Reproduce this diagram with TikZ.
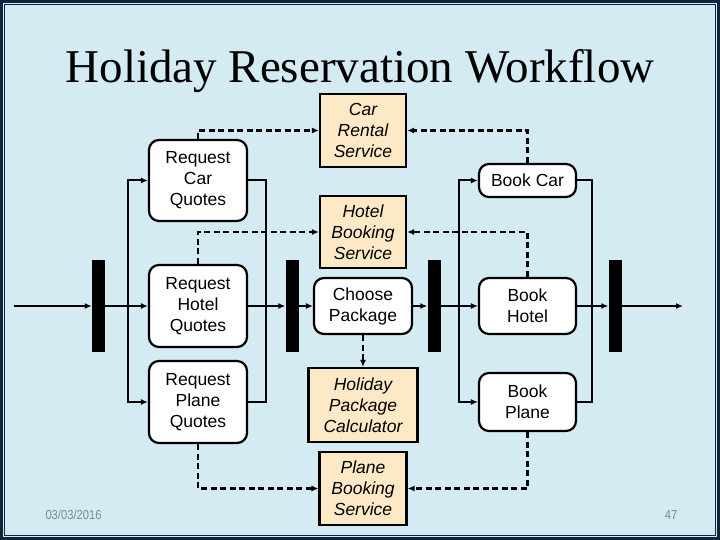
\documentclass[tikz,border=0pt]{standalone}
\usepackage{fontspec}
\setmainfont{Liberation Serif}
\newfontfamily\boxfont{Liberation Sans}
\newfontfamily\footfont[FakeStretch=0.86]{Liberation Sans}
\usetikzlibrary{positioning,arrows.meta}
\definecolor{slidebg}{RGB}{212,235,244}
\definecolor{slideframe}{RGB}{16,36,60}
\definecolor{servicefill}{RGB}{253,233,198}
\definecolor{footgray}{RGB}{125,137,148}
\tikzset{>={Latex[length=7pt,width=6pt]}}
\tikzset{
  activity/.style={draw, line width=2.2pt, rounded corners=10pt, fill=white, minimum width=98pt, inner sep=0pt, align=center, font=\boxfont\fontsize{17.5}{21}\selectfont},
  service/.style={draw, line width=2.2pt, fill=servicefill, inner sep=0pt, align=center, font=\boxfont\itshape\fontsize{17.5}{21}\selectfont},
  syncbar/.style={fill=black, minimum width=13pt, minimum height=92pt, inner sep=0pt},
  flow/.style={line width=2pt, ->},
  flowline/.style={line width=2pt},
  uses/.style={line width=2.4pt, dash pattern=on 6pt off 3.5pt, ->}
}

\begin{document}
\begin{tikzpicture}[x=1pt, y=1pt]
      \useasboundingbox (0,0) rectangle (720,-540);
      \fill[slideframe] (0,0) rectangle (720,-540);
      \fill[slidebg] (3,-3) rectangle (717,-537);
      \draw[slideframe, line width=1pt] (4.5,-4.5) rectangle (715.5,-535.5);
      \node[anchor=base, font=\fontsize{47}{50}\selectfont] (title) at (360,-83) {Holiday Reservation Workflow};
      \node[anchor=base west, text=footgray, font=\footfont\fontsize{13}{15}\selectfont] (date) at (42,-519) {03/03/2016};
      \node[anchor=base, text=footgray, font=\footfont\fontsize{13}{15}\selectfont] (page) at (671,-519) {47};
      \node[activity, minimum height=82pt] (rhotel) at (198,-306) {Request\\Hotel\\Quotes};
      \node[activity, minimum height=81pt, above of=rhotel, node distance=125.5pt] (rcar) {Request\\Car\\Quotes};
      \node[activity, minimum height=82pt, below of=rhotel, node distance=96pt] (rplane) {Request\\Plane\\Quotes};
      \node[syncbar, left of=rhotel, node distance=99.5pt] (bar1) {};
      \node[syncbar, right of=rhotel, node distance=94pt] (bar2) {};
      \node[activity, minimum height=56pt, right of=bar2, node distance=71pt] (choose) {Choose\\Package};
      \node[syncbar, right of=choose, node distance=71pt] (bar3) {};
      \node[activity, minimum width=97pt, minimum height=56pt, right of=bar3, node distance=93.5pt] (bhotel) {Book\\Hotel};
      \node[syncbar, right of=bhotel, node distance=87.5pt] (bar4) {};
      \node[activity, minimum width=97pt, minimum height=33pt, above of=bhotel, node distance=125.5pt] (bcar) {Book Car};
      \node[activity, minimum width=97pt, minimum height=58pt, below of=bhotel, node distance=96pt] (bplane) {Book\\Plane};
      \node[service, minimum width=86pt, minimum height=73pt, above of=choose, node distance=175.5pt] (carsrv) {Car\\Rental\\Service};
      \node[service, minimum width=86pt, minimum height=72pt, above of=choose, node distance=74pt] (hotelsrv) {Hotel\\Booking\\Service};
      \node[service, minimum width=109pt, minimum height=74pt, below of=choose, node distance=99pt] (calc) {Holiday\\Package\\Calculator};
      \node[service, minimum width=87pt, minimum height=73pt, below of=choose, node distance=182.5pt] (planesrv) {Plane\\Booking\\Service};
      \coordinate[left of=bar1, node distance=84.5pt] (start);
      \coordinate[right of=bar4, node distance=68pt] (finish);
      \coordinate[right of=bar1, node distance=29.5pt] (fork1);
      \coordinate[right of=rhotel, node distance=68pt] (join1);
      \coordinate[right of=bar3, node distance=25pt] (fork2);
      \coordinate[right of=bhotel, node distance=64.5pt] (join2);
      \draw[flow] (start) -- (bar1);
      \draw[flow] (bar1) -- (rhotel);
      \draw[flow] (fork1) |- (rcar);
      \draw[flow] (fork1) |- (rplane);
      \draw[flowline] (rcar.east) -| (join1);
      \draw[flowline] (rplane.east) -| (join1);
      \draw[flow] (rhotel) -- (bar2);
      \draw[flow] (bar2) -- (choose);
      \draw[flow] (choose) -- (bar3);
      \draw[flow] (bar3) -- (bhotel);
      \draw[flow] (fork2) |- (bcar);
      \draw[flow] (fork2) |- (bplane);
      \draw[flowline] (bcar.east) -| (join2);
      \draw[flowline] (bplane.east) -| (join2);
      \draw[flow] (bhotel) -- (bar4);
      \draw[flow] (bar4) -- (finish);
      \draw[uses] (rcar.north) |- (carsrv.west);
      \draw[uses] (bcar.north) |- (carsrv.east);
      \draw[uses] (rhotel.north) |- (hotelsrv.west);
      \draw[uses] (bhotel.north) |- (hotelsrv.east);
      \draw[uses] (choose) -- (calc);
      \draw[uses] (rplane.south) |- (planesrv.west);
      \draw[uses] (bplane.south) |- (planesrv.east);
    \end{tikzpicture}
\end{document}
